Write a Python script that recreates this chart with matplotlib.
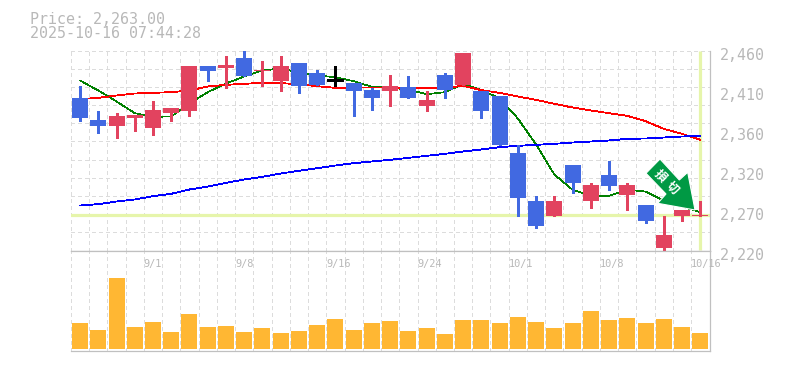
from matplotlib import pyplot as plt
from matplotlib.patches import Polygon
from matplotlib.transforms import IdentityTransform

W, H = 785, 370

# Candles (35 sessions)
opens = [2402.4, 2377.2, 2370, 2379.6, 2366.4, 2385.6, 2388, 2442, 2438.4, 2450.4, 2434.8, 2422.8,
         2445.6, 2432.4, 2425.2, 2420.4, 2412, 2412, 2415.6, 2394, 2430, 2419.2, 2412, 2404.8,
         2337.6, 2280, 2260.8, 2322, 2278.8, 2310, 2287.2, 2275.2, 2223.6, 2260.8, 2260.8]
highs = [2418, 2388, 2384.4, 2383.2, 2400, 2391.6, 2442, 2442, 2454, 2460, 2448, 2454,
         2445.6, 2437.2, 2442, 2420.4, 2415.6, 2431.2, 2428.8, 2412, 2433.6, 2456.4, 2412, 2404.8,
         2347.2, 2284.8, 2284.8, 2322, 2300.4, 2328, 2301.6, 2275.2, 2260.8, 2268, 2278.8]
lows = [2374.8, 2360.4, 2354.4, 2362.8, 2359.2, 2374.8, 2382, 2424, 2415.6, 2428.8, 2416.8, 2412,
        2409.6, 2419.2, 2416.8, 2382, 2389.2, 2394, 2402.4, 2386.8, 2402.4, 2419.2, 2378.4, 2347.2,
        2262, 2247.6, 2260.8, 2288.4, 2271.6, 2293.2, 2269.2, 2253.6, 2219, 2256, 2260.8]
closes = [2378.4, 2368.8, 2380.8, 2383.2, 2388, 2391.6, 2442, 2436, 2443.2, 2428.8, 2437.2, 2440.8,
          2418, 2419.2, 2425.2, 2410.8, 2403.6, 2418, 2402.4, 2401.2, 2413.2, 2456.4, 2388, 2347.2,
          2283.6, 2250, 2278.8, 2300.4, 2298, 2296.8, 2298, 2254.8, 2239.2, 2268, 2263.2]

# Moving averages
ma_short = [2424, 2412, 2398.8, 2384.8, 2380.4, 2380.8, 2396.4, 2410, 2420.4, 2428.8, 2436, 2438.4,
            2433.6, 2430, 2428, 2423.2, 2416.4, 2415.6, 2412.8, 2407.6, 2410, 2419.6, 2412.8, 2402.4,
            2378.4, 2347.2, 2311.2, 2292.8, 2286, 2285.6, 2292.8, 2290.8, 2280, 2272.8, 2266]
ma_mid = [2401.6, 2403.2, 2406, 2408.4, 2409.2, 2410, 2412, 2416.8, 2418.8, 2420, 2421.2, 2420.8,
          2419.6, 2417.2, 2415.2, 2415.6, 2415.6, 2415.6, 2415.2, 2415.2, 2415.2, 2417.6, 2412.4, 2409.2,
          2404.8, 2400.8, 2396, 2391.6, 2388, 2384.8, 2381.6, 2375.2, 2366, 2360, 2352.8]
ma_long = [2274, 2275.6, 2278.8, 2281.2, 2285.2, 2288, 2293.2, 2296.8, 2301.2, 2305.2, 2308.4, 2312.4,
           2315.6, 2318.8, 2322, 2324.8, 2326.8, 2328.8, 2331.2, 2333.6, 2336, 2338.8, 2341.2, 2344,
           2345.6, 2346.8, 2348, 2349.6, 2350.8, 2352, 2354, 2354.4, 2355.6, 2356.8, 2357.6]

volumes = [26, 19, 71, 22, 27, 17, 35, 22, 23, 17, 21, 16, 18, 24, 30, 19, 26, 28,
           18, 21, 15, 29, 29, 26, 32, 27, 21, 26, 38, 29, 31, 26, 30, 22, 16]

date_pos = [4, 9, 14, 19, 24, 29, 34]
date_labels = ["9/1", "9/8", "9/16", "9/24", "10/1", "10/8", "10/16"]

price_ticks = [2460, 2412, 2364, 2316, 2268, 2220]
price_labels = ["2,460", "2,410", "2,360", "2,320", "2,270", "2,220"]

last_price = 2263
title_lines = ["Price: 2,263.00", "2025-10-16 07:44:28"]

GRAY = "#b8b8b8"
GRID = "#dcdcdc"
HILITE = "#e6f5ab"
RED = "#e2435f"
BLUE = "#4169e1"
FONT = "DejaVu Sans Mono"
PX = 0.72  # one pixel in points


def make_axes(top, bottom):
    ax = fig.add_axes([70.9 / W, 1 - bottom / H, 639.4 / W, (bottom - top) / H])
    ax.set_xlim(-0.5, 34.55)
    ax.set_xticks([])
    ax.set_yticks([])
    ax.spines["left"].set_visible(False)
    for side in ["top", "bottom", "right"]:
        ax.spines[side].set_color("#c0c0c0")
        ax.spines[side].set_linewidth(0.9)
    for i in range(35):
        ax.axvline(i - 0.5, color=GRID, lw=PX, ls=(0, (3, 3)), antialiased=False, zorder=1)
    return ax


fig = plt.figure(figsize=(W / 100, H / 100), dpi=100)

# Price panel
ax = make_axes(50.5, 250.5)
ax.set_ylim(2220, 2460)
ax.spines["top"].set_visible(False)
for k in range(1, 12):
    ax.axhline(2220 + 240 / 11 * k, color=GRID, lw=PX, ls=(0, (3, 3)), antialiased=False, zorder=1)

ax.axhline(last_price, color=HILITE, lw=2.3, zorder=2)
ax.plot([34, 34], [2221, 2460], color=HILITE, lw=2.3, solid_capstyle="butt", zorder=2)

xs = list(range(35))
ax.plot(xs, ma_short, color="green", lw=0.5, antialiased=False, zorder=3)
ax.plot(xs, ma_mid, color="red", lw=0.6, antialiased=False, zorder=3)
ax.plot(xs, ma_long, color="blue", lw=0.6, antialiased=False, zorder=3)

for i in xs:
    if closes[i] > opens[i]:
        col = RED
    elif closes[i] < opens[i]:
        col = BLUE
    else:
        col = "black"
    ax.vlines(i, lows[i], highs[i], color=col, lw=0.9, antialiased=False, zorder=4)
    if col == "black":
        ax.hlines(closes[i], i - 0.44, i + 0.44, color=col, lw=0.9, antialiased=False, zorder=4)
    else:
        ax.bar(i, abs(closes[i] - opens[i]), bottom=min(opens[i], closes[i]), width=0.877,
               color=col, antialiased=False, zorder=4)

for val, lab in zip(price_ticks, price_labels):
    ax.annotate(lab, xy=(1, val), xycoords=ax.get_yaxis_transform(), xytext=(10, -4.5),
                textcoords="offset pixels", color=GRAY, fontsize=10.8, family=FONT,
                ha="left", va="center", annotation_clip=False)

# Arrow marker, drawn in pixel positions of the figure
arrow = [(660, 159), (646, 173.3), (666, 194), (657.7, 203.3), (695, 210), (687.7, 172.3), (679.3, 180)]
arrow_px = [(x, H - y) for x, y in arrow]
fig.add_artist(Polygon(arrow_px, closed=True, facecolor="#009944", edgecolor="white", lw=0.8,
                       transform=IdentityTransform(), zorder=6))
for ch, (tx, ty) in zip("損切", [(660.5, 175.5), (672.5, 187.5)]):
    fig.text(tx / W, 1 - ty / H, ch, color="white", fontsize=8.6, fontweight="bold", rotation=-45,
             rotation_mode="anchor", ha="center", va="center",
             family=["Noto Sans CJK JP", "DejaVu Sans"], zorder=7)

# Volume panel
ax2 = make_axes(250.5, 350.5)
ax2.set_ylim(-2, 98)
ax2.bar(xs, volumes, width=0.877, color="#ffb733", antialiased=False, zorder=3)

for pos, lab in zip(date_pos, date_labels):
    ax2.annotate(lab, xy=(pos - 0.5, 1), xycoords=ax2.get_xaxis_transform(), xytext=(0, -13),
                 textcoords="offset pixels", color=GRAY, fontsize=7.4, family=FONT,
                 ha="left", va="center", annotation_clip=False, zorder=5)

fig.text(30 / W, 1 - 19 / H, title_lines[0], color=GRAY, fontsize=10.8, family=FONT, ha="left", va="center")
fig.text(30 / W, 1 - 34 / H, title_lines[1], color=GRAY, fontsize=10.8, family=FONT, ha="left", va="center")

fig.savefig("out.png", dpi=100)
